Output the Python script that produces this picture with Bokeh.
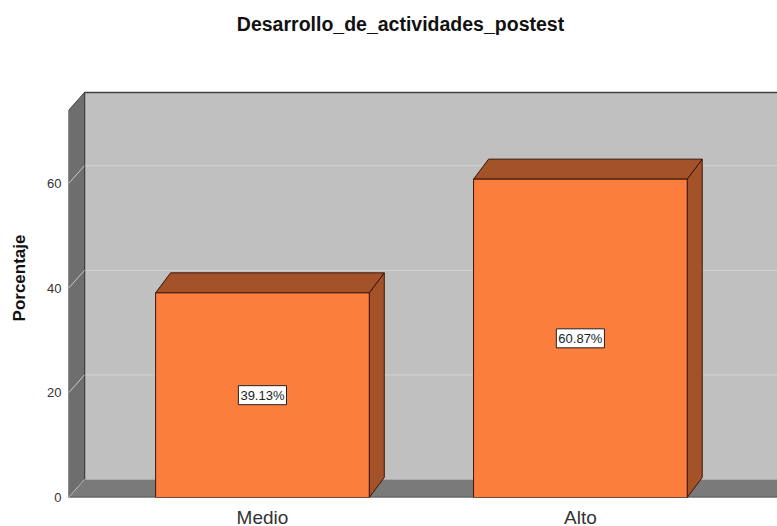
from bokeh.plotting import figure
from bokeh.layouts import column
from bokeh.models import Range1d, FixedTicker, ColumnDataSource
from bokeh.core.properties import value
from bokeh.embed import file_html
from bokeh.resources import INLINE

# ---- data ----
categories = ["Medio", "Alto"]
values = [39.13, 60.87]
y_ticks = [0, 20, 40, 60]
title_text = "Desarrollo_de_actividades_postest"
y_label = "Porcentaje"

# ---- layout ----
W, H = 777, 526
HT = 58                      # title strip height
BBM = 9                      # bottom border of main chart (room for "0")
HB = 20                      # category-label strip height
HM = H - HT - HB             # main chart height
BL = 68
frame_w = W - BL
frame_h = HM - BBM
x0, x1 = 0.390, 2.620
px_x = frame_w / (x1 - x0)
px_y = 5.23
y1 = frame_h / px_y
DX = 16 / px_x          # depth offset (x)
DY = 18 / px_y          # depth offset (y)
BDX = 15 / px_x
BDY = 20 / px_y
ymax = 74.0
half_w = 0.336
xr = x1 + 0.2

FONT = "Liberation Sans"
centers = [i + 1 for i in range(len(categories))]

def strip(height, x_range):
    f = figure(width=W, height=height, output_backend="svg", toolbar_location=None,
               x_range=x_range, y_range=Range1d(0, height),
               x_axis_type=None, y_axis_type=None,
               min_border_left=BL, min_border_right=0, min_border_top=0,
               min_border_bottom=0)
    f.outline_line_color = None
    f.grid.visible = False
    return f

# ---- main chart ----
p = figure(width=W, height=HM, output_backend="svg", toolbar_location=None,
           x_range=Range1d(x0, x1), y_range=Range1d(0, y1), x_axis_type=None,
           min_border_left=BL, min_border_right=0, min_border_top=0,
           min_border_bottom=BBM)
p.outline_line_color = None
p.grid.visible = False
p.background_fill_color = "white"
p.border_fill_color = "white"

# ---- title strip (frame in pixel-like units) ----
pt = strip(HT, Range1d(BL, W))
pt.text(x=[400], y=[HT - 23.5], text=[title_text],
        text_align="center", text_baseline="middle",
        text_font=value(FONT), text_font_size="19.5px", text_font_style="bold",
        text_color="#111111")

# ---- category labels strip (shares the x scale of the bars) ----
pb = strip(HB, p.x_range)
pb.text(x=centers, y=[HB - 10.5] * len(centers), text=categories,
        text_align="center", text_baseline="middle",
        text_font=value(FONT), text_font_size="19px", text_color="#333333")

# back wall
p.patch([x0 + DX, xr, xr, x0 + DX], [DY, DY, ymax + DY, ymax + DY],
        fill_color="#c0c0c0", line_color=None)
for v in y_ticks[1:]:
    p.line([x0 + DX, xr], [v + DY, v + DY], line_color="#d2d2d2", line_width=1)
p.line([x0 + DX, xr], [ymax + DY, ymax + DY], line_color="#404040", line_width=1.5)
p.line([x0 + DX, x0 + DX], [DY, ymax + DY], line_color="#404040", line_width=1.5)

# floor
p.patch([x0, xr, xr, x0 + DX], [0, 0, DY, DY],
        fill_color="#7a7a7a", line_color=None)
p.line([x0, xr], [0, 0], line_color="#404040", line_width=1.5)

# left wall
p.patch([x0, x0, x0 + DX, x0 + DX], [0, ymax, ymax + DY, DY],
        fill_color="#6e6e6e", line_color="#404040", line_width=1)
for v in y_ticks:
    p.line([x0, x0 + DX], [v, v + DY], line_color="#c8c8c8", line_width=1)

# bars
for c, v in zip(centers, values):
    l, r = c - half_w, c + half_w
    p.patch([r, r + BDX, r + BDX, r], [0, BDY, v + BDY, v],
            fill_color="#a3522a", line_color="#3a1608", line_width=1)
    p.patch([l, r, r + BDX, l + BDX], [v, v, v + BDY, v + BDY],
            fill_color="#a3522a", line_color="#3a1608", line_width=1)
p.quad(left=[c - half_w for c in centers], right=[c + half_w for c in centers],
       bottom=0, top=values, fill_color="#fb7e3c", line_color="#3a1608", line_width=1)

src = ColumnDataSource(dict(x=centers, y=[v / 2 for v in values],
                            t=[f"{v:.2f}%" for v in values]))
p.text(x="x", y="y", text="t", source=src,
       text_align="center", text_baseline="middle",
       text_font=value(FONT), text_font_size="13px", text_color="#222222",
       background_fill_color="white", border_line_color="#222222",
       border_line_width=1, padding=2)

# y axis
p.yaxis.ticker = FixedTicker(ticks=y_ticks)
p.yaxis.axis_line_color = None
p.yaxis.major_tick_line_color = None
p.yaxis.minor_tick_line_color = None
p.yaxis.major_tick_out = 0
p.yaxis.major_label_standoff = 7
p.yaxis.major_label_text_font = FONT
p.yaxis.major_label_text_font_size = "13px"
p.yaxis.major_label_text_color = "#333333"
p.yaxis.axis_label = y_label
p.yaxis.axis_label_text_font = FONT
p.yaxis.axis_label_text_font_style = "bold"
p.yaxis.axis_label_text_font_size = "17px"
p.yaxis.axis_label_text_color = "#111111"
p.yaxis.axis_label_standoff = 15

layout = column(pt, p, pb, spacing=0)
open("out.html", "w").write(file_html(layout, INLINE))
